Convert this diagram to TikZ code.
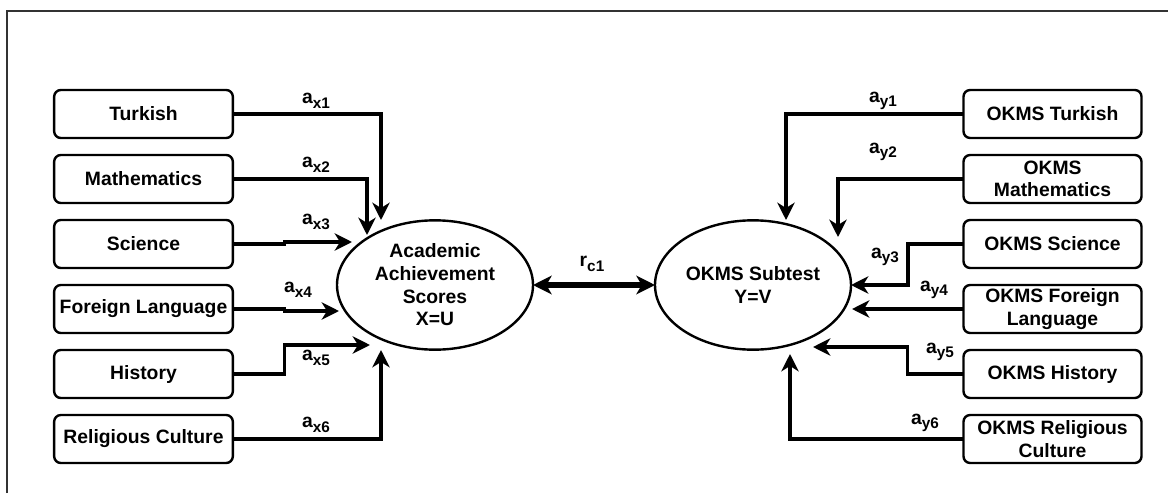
\documentclass[tikz,border=0pt]{standalone}
\usepackage{fontspec}
\setmainfont{Liberation Sans}
\usetikzlibrary{positioning,arrows.meta,shapes.geometric}

\newcommand{\sub}[1]{\raisebox{-0.45ex}{\fontsize{11.5}{11.5}\selectfont #1}}

\tikzset{
  obs/.style={draw, line width=1.8pt, rounded corners=5pt, minimum width=134pt,
    minimum height=36pt, inner sep=1pt, outer sep=0pt, align=center},
  lat/.style={draw, ellipse, line width=1.8pt, minimum width=147pt,
    minimum height=97pt, inner sep=0pt, outer sep=0pt, align=center},
  loadarrow/.style={draw, line width=2.4pt, -{Stealth[length=13pt,width=13pt,inset=4pt]}},
  coef/.style={inner sep=0pt}
}

\begin{document}
\begin{tikzpicture}[x=0.75pt, y=-0.75pt, node distance=12.75pt,
    font=\fontsize{14.5}{17}\selectfont\bfseries]
  \useasboundingbox (0,0) rectangle (1168,493);
  \draw[line width=1pt, black!80] (7,493) -- (7,11) -- (1168,11);

  % school subjects
  \node[obs] (tur) at (143.5,114) {Turkish};
  \node[obs, below=of tur] (mat) {Mathematics};
  \node[obs, below=of mat] (sci) {Science};
  \node[obs, below=of sci] (for) {Foreign Language};
  \node[obs, below=of for] (his) {History};
  \node[obs, below=of his] (rel) {Religious Culture};

  % OKMS subtests
  \node[obs, minimum width=133.5pt] (otur) at (1052.5,114) {OKMS Turkish};
  \node[obs, minimum width=133.5pt, below=of otur] (omat) {OKMS\\Mathematics};
  \node[obs, minimum width=133.5pt, below=of omat] (osci) {OKMS Science};
  \node[obs, minimum width=133.5pt, below=of osci] (ofor) {OKMS Foreign\\Language};
  \node[obs, minimum width=133.5pt, below=of ofor] (ohis) {OKMS History};
  \node[obs, minimum width=133.5pt, below=of ohis] (orel) {OKMS Religious\\Culture};

  % latent variables
  \node[lat] (acad) at (435,285) {Academic\\Achievement\\Scores\\X=U};
  \node[lat] (okms) at (753,285) {OKMS Subtest\\Y=V};

  \coordinate (tx1) at (381,220);
  \coordinate (tx2) at (367,235);
  \coordinate (tx3) at (352,242);
  \coordinate (tx4) at (339,311);
  \coordinate (tx5) at (370,345);
  \coordinate (tx6) at (381,350);
  \coordinate (ty1) at (786,220);
  \coordinate (ty2) at (838,237);
  \coordinate (ty4) at (852,309);
  \coordinate (ty5) at (813,347);
  \coordinate (ty6) at (790,354);

  \path[loadarrow] (tur.east) -| (tx1);
  \path[loadarrow] (mat.east) -| (tx2);
  \path[loadarrow] (sci.east) -- ++(52,0) |- (tx3);
  \path[loadarrow] (for.east) -- ++(52,0) |- (tx4);
  \path[loadarrow] (his.east) -- ++(52,0) |- (tx5);
  \path[loadarrow] (rel.east) -| (tx6);

  \draw[line width=3.8pt, {Stealth[length=14pt,width=14pt,inset=4pt]}-{Stealth[length=14pt,width=14pt,inset=4pt]}]
    (acad.east) -- (okms.west);

  \path[loadarrow] (otur.west) -| (ty1);
  \path[loadarrow] (omat.west) -| (ty2);
  \path[loadarrow, line width=3pt] (osci.west) -- ++(-56,0) |- (okms.east);
  \path[loadarrow] (ofor.west) -- (ty4);
  \path[loadarrow] (ohis.west) -- ++(-56,0) |- (ty5);
  \path[loadarrow] (orel.west) -| (ty6);

  % coefficients
  \node[coef] (ax1) at (316,101) {a\sub{x1}};
  \node[coef] (ax2) at (316,165) {a\sub{x2}};
  \node[coef] (ax3) at (316,222) {a\sub{x3}};
  \node[coef] (ax4) at (298,290) {a\sub{x4}};
  \node[coef] (ax5) at (316,358) {a\sub{x5}};
  \node[coef] (ax6) at (316,425) {a\sub{x6}};
  \node[coef] (rc1) at (592,264) {r\sub{c1}};
  \node[coef] (ay1) at (883,101) {a\sub{y1}};
  \node[coef] (ay2) at (883,152) {a\sub{y2}};
  \node[coef] (ay3) at (885,257) {a\sub{y3}};
  \node[coef] (ay4) at (934,290) {a\sub{y4}};
  \node[coef] (ay5) at (940,352) {a\sub{y5}};
  \node[coef] (ay6) at (925,423) {a\sub{y6}};
\end{tikzpicture}
\end{document}
